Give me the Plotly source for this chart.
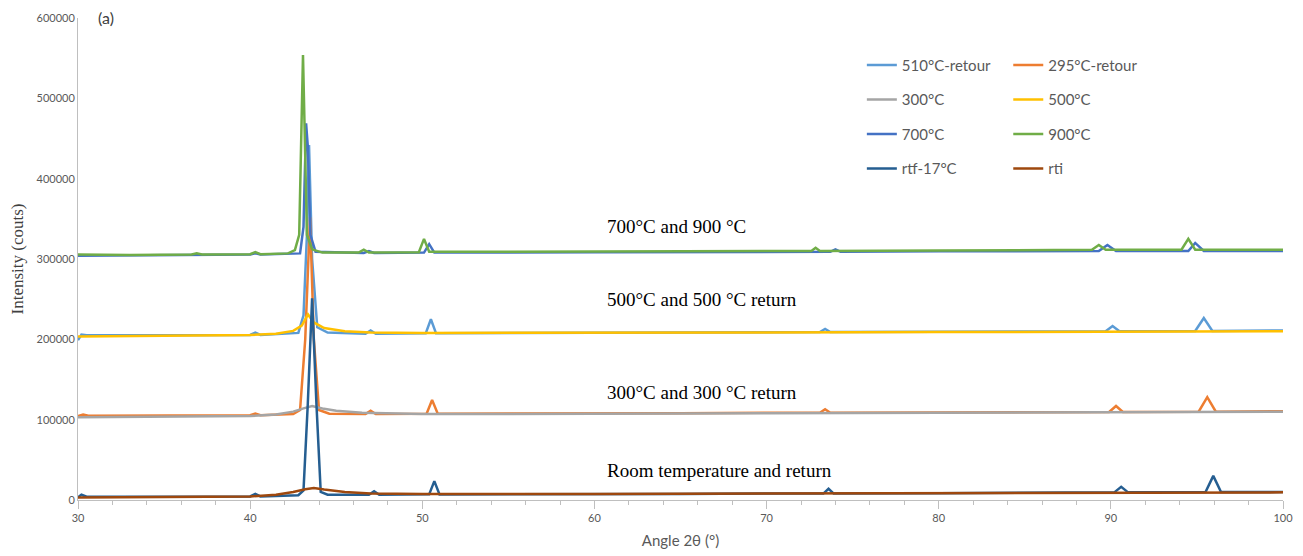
import plotly.graph_objects as go

# ---------------- data ----------------
x_510_retour = [30, 30.2, 30.5, 33, 36, 40.0, 40.3, 40.6, 42.8, 43.1, 43.3, 43.42, 43.6, 43.9, 44.5,
                46.7, 47.0, 47.3, 50.2, 50.5, 50.8, 56.5, 60, 65, 70, 73.1, 73.4, 73.7, 80,
                89.7, 90.1, 90.5, 94.9, 95.4, 95.9, 100]
y_510_retour = [199000, 206000, 205000, 205000, 205500, 205500, 208500, 205500, 208000, 230000, 330000,
                442000, 300000, 215000, 208500, 207000, 211000, 207000, 207500, 225000, 207500, 208000,
                208000, 208500, 209000, 209000, 213000, 209000, 209500, 210000, 216500, 210000, 210500,
                226500, 210500, 211000]

x_295_retour = [30, 30.3, 30.6, 33, 36, 40.0, 40.3, 40.6, 42.5, 42.9, 43.2, 43.48, 43.7, 44.0, 44.6,
                46.7, 47.0, 47.3, 50.25, 50.57, 50.9, 56.5, 60, 65, 70, 73.1, 73.4, 73.7, 80,
                89.9, 90.3, 90.7, 95.1, 95.6, 96.1, 100]
y_295_retour = [104500, 106500, 105000, 105000, 105500, 105500, 107500, 105500, 107000, 112000, 200000,
                352000, 200000, 112000, 107500, 107000, 111000, 107000, 107500, 124500, 107500, 107500,
                108000, 108000, 108500, 108500, 113000, 108500, 109000, 109500, 117000, 109500, 110000,
                128000, 110000, 110500]

x_300 = [30, 35, 40, 41.5, 42.5, 43.1, 43.6, 44.2, 45, 46.5, 50, 55, 60, 70, 80, 90, 100]
y_300 = [103000, 103500, 104500, 106500, 110000, 114000, 117000, 114000, 111000, 108500, 107000,
         107000, 107500, 108000, 108500, 109500, 110000]

x_500 = [30, 35, 40, 41.5, 42.5, 43.0, 43.36, 43.7, 44.3, 45.5, 47, 50, 55, 60, 70, 80, 90, 100]
y_500 = [203500, 204500, 205500, 207000, 210500, 217000, 231000, 221000, 214000, 210000, 208500,
         208000, 208000, 208000, 208500, 209000, 209500, 210000]

x_700 = [30, 35, 40, 40.3, 40.6, 42.9, 43.1, 43.25, 43.35, 43.5, 43.8, 46.6, 46.9, 47.2, 50.1, 50.4,
         50.7, 60, 70, 73.7, 74.0, 74.3, 80, 89.3, 89.8, 90.3, 94.5, 94.9, 95.4, 100]
y_700 = [304000, 304500, 305500, 307000, 305500, 307000, 340000, 469000, 440000, 330000, 309000,
         307500, 310000, 307500, 308000, 318500, 308000, 308500, 309000, 309000, 312000, 309000,
         309500, 310000, 317500, 310000, 310000, 320000, 310000, 310000]

x_900 = [30, 33, 36.6, 36.9, 37.2, 40.0, 40.3, 40.6, 42.2, 42.6, 42.85, 43.07, 43.3, 43.6, 44.2,
         46.3, 46.6, 46.9, 49.8, 50.1, 50.4, 56.5, 59.9, 65.2, 70, 72.6, 72.85, 73.1, 80,
         88.9, 89.3, 89.7, 94.1, 94.5, 94.9, 100]
y_900 = [305500, 305000, 305500, 307000, 305500, 306000, 308500, 306000, 307000, 311000, 330000,
         554000, 330000, 312000, 308000, 308000, 311500, 308000, 308500, 325000, 309000, 309000,
         309500, 309500, 310000, 310000, 314000, 310000, 310500, 311500, 317500, 311500, 311500,
         325000, 311500, 311500]

x_rtf17 = [30, 30.2, 30.5, 33, 36, 40.0, 40.3, 40.6, 42.8, 43.1, 43.35, 43.6, 43.85, 44.1, 44.5,
           46.9, 47.2, 47.5, 50.4, 50.7, 51.0, 56.5, 60, 65, 70, 73.3, 73.6, 73.9, 80,
           90.2, 90.6, 91.0, 95.5, 95.95, 96.4, 100]
y_rtf17 = [3500, 6500, 4000, 4000, 4500, 4500, 7500, 4500, 6000, 12000, 120000, 251000, 120000,
           10000, 6500, 6500, 11000, 6500, 7000, 23500, 7000, 7000, 7500, 7500, 8000, 8000, 14000,
           8000, 8500, 9500, 16500, 9500, 10000, 30000, 10000, 10000]

x_rti = [30, 35, 40, 41.5, 42.5, 43.2, 43.7, 44.3, 45.5, 47, 50, 60, 70, 80, 90, 100]
y_rti = [3000, 3500, 4500, 6500, 10000, 13500, 15000, 13000, 10000, 8000, 7500, 7500, 8000, 8500,
         9000, 9500]

series_names = ["510°C-retour", "295°C-retour", "300°C", "500°C", "700°C", "900°C", "rtf-17°C", "rti"]
series_x = [x_510_retour, x_295_retour, x_300, x_500, x_700, x_900, x_rtf17, x_rti]
series_y = [y_510_retour, y_295_retour, y_300, y_500, y_700, y_900, y_rtf17, y_rti]
series_colors = ["#5B9BD5", "#ED7D31", "#A5A5A5", "#FFC000", "#4472C4", "#70AD47", "#255E91", "#9E480E"]
series_legend = ["legend", "legend2", "legend", "legend2", "legend", "legend2", "legend", "legend2"]

label_texts = ["700°C and 900 °C", "500°C and 500 °C return", "300°C and 300 °C return",
               "Room temperature and return"]
label_x = [60.63, 60.63, 60.63, 60.63]
label_y = [340000, 249000, 133500, 37000]

x_ticks = [30, 40, 50, 60, 70, 80, 90, 100]
y_ticks = [0, 100000, 200000, 300000, 400000, 500000, 600000]

# ---------------- figure ----------------
fig = go.Figure()
for name, xs, ys, col, lg in zip(series_names, series_x, series_y, series_colors, series_legend):
    fig.add_trace(go.Scatter(
        x=xs, y=ys, mode="lines", name=name,
        line=dict(color=col, width=2.5),
        legend=lg, legendgroup=name,
    ))

for t, xx, yy in zip(label_texts, label_x, label_y):
    fig.add_annotation(x=xx, y=yy, text=t, showarrow=False, xanchor="left", yanchor="middle",
                       font=dict(family="Liberation Serif, Times New Roman, serif", size=19, color="#000000"))

fig.add_annotation(x=0.015, y=1.002, xref="paper", yref="paper", text="(a)", showarrow=False,
                   xanchor="left", yanchor="middle",
                   font=dict(family="Lato, Open Sans, sans-serif", size=16, color="#404040"))

legend_common = dict(
    orientation="v", yanchor="top", xanchor="left",
    font=dict(family="Lato, Open Sans, sans-serif", size=15, color="#595959"),
    bgcolor="rgba(255,255,255,0)", borderwidth=0, tracegroupgap=12,
)

fig.update_layout(
    width=1303, height=556,
    margin=dict(l=78, r=20, t=18, b=56, autoexpand=False),
    paper_bgcolor="white", plot_bgcolor="white",
    legend=dict(x=0.6505, y=0.936, **legend_common),
    legend2=dict(x=0.772, y=0.936, **legend_common),
    xaxis=dict(
        range=[30, 100], tickvals=x_ticks, ticktext=[str(v) for v in x_ticks],
        automargin=False,
        showgrid=False, zeroline=False, showline=True, linecolor="#BFBFBF", linewidth=1,
        ticks="outside", ticklen=8, tickcolor="#BFBFBF",
        minor=dict(ticks="outside", ticklen=4, dtick=2, tickcolor="#BFBFBF", showgrid=False),
        tickfont=dict(family="Lato, Open Sans, sans-serif", size=11, color="#595959"),
        title=dict(text="Angle 2θ (°)", standoff=12,
                   font=dict(family="Lato, Open Sans, sans-serif", size=15, color="#595959")),
    ),
    yaxis=dict(
        range=[0, 600000], tickvals=y_ticks, ticktext=[str(v) for v in y_ticks],
        automargin=False,
        showgrid=False, zeroline=False, showline=True, linecolor="#BFBFBF", linewidth=1,
        ticks="", tickfont=dict(family="Lato, Open Sans, sans-serif", size=11, color="#595959"),
        title=dict(text="Intensity (couts)", standoff=8,
                   font=dict(family="Liberation Serif, Times New Roman, serif", size=17, color="#404040")),
    ),
)

# remove the default 8px page margin so the 1303x556 figure fills the window exactly
fig.write_html("out.html", config={"displayModeBar": False},
               post_script="document.body.style.margin='0';")
